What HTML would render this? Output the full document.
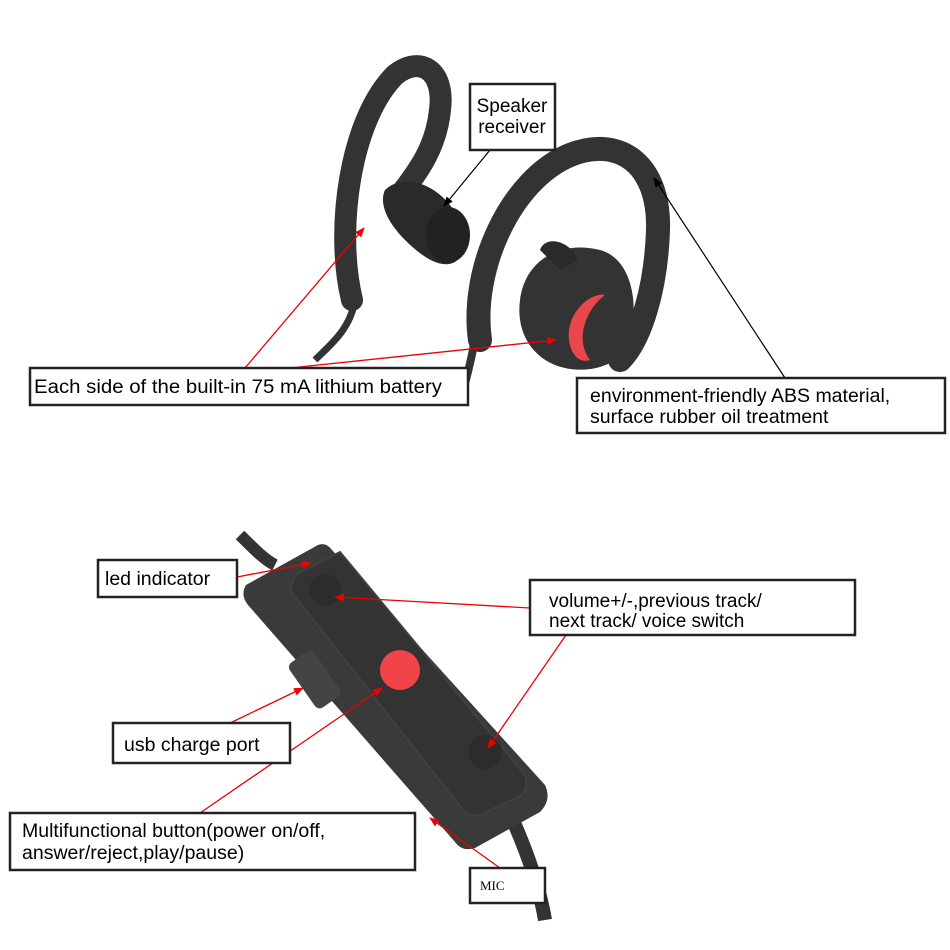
<!DOCTYPE html>
<html><head><meta charset="utf-8"><style>
body{margin:0;background:#fff}
svg{display:block}
text{font-family:"Liberation Sans",sans-serif;fill:#000}
</style></head><body>
<svg width="950" height="950" viewBox="0 0 950 950">
<defs>
<marker id="ar" markerWidth="10" markerHeight="8" refX="9" refY="4" orient="auto" markerUnits="userSpaceOnUse"><path d="M0,0 L10,4 L0,8z" fill="#e00"/></marker>
<marker id="ab" markerWidth="10" markerHeight="8" refX="9" refY="4" orient="auto" markerUnits="userSpaceOnUse"><path d="M0,0 L10,4 L0,8z" fill="#000"/></marker>
</defs>
<!-- left earphone -->
<path d="M352,300 C335,230 350,120 395,75 C420,55 445,70 440,110 C436,150 415,175 400,195" fill="none" stroke="#333" stroke-width="22" stroke-linecap="round"/>
<path d="M355,300 C350,330 330,345 315,360" fill="none" stroke="#333" stroke-width="7"/>
<path d="M385,190 C400,175 430,180 450,205 C465,225 470,250 455,262 C440,270 420,255 405,240 C390,225 378,205 385,190z" fill="#2a2a2a"/>
<ellipse cx="448" cy="235" rx="22" ry="28" fill="#222"/>
<!-- right earphone -->
<path d="M480,340 C470,270 510,180 570,155 C620,135 660,165 658,230 C656,290 640,340 620,360" fill="none" stroke="#333" stroke-width="24" stroke-linecap="round"/>
<path d="M475,340 C470,365 465,385 460,400" fill="none" stroke="#333" stroke-width="8"/>
<path d="M520,300 C525,260 560,240 600,250 C630,258 640,300 630,340 C620,370 580,375 555,365 C530,355 516,330 520,300z" fill="#333"/>
<path d="M540,250 C545,235 570,240 578,260 L560,270z" fill="#2a2a2a"/>
<path d="M605,295 C585,310 575,340 590,360 C575,365 565,345 570,325 C575,305 595,292 605,295z" fill="#e8484c"/>
<!-- remote -->
<path d="M240,535 C255,550 265,560 275,565" stroke="#333" stroke-width="12" fill="none"/>
<path d="M515,825 C530,860 540,890 545,920" stroke="#333" stroke-width="14" fill="none"/>
<path d="M246,585 L318,545 Q326,542 332,550 L545,785 Q552,800 540,812 L475,848 Q462,852 455,842 L248,605 Q240,595 246,585z" fill="#3a3a3a"/>
<path d="M295,575 L340,552 L525,775 Q530,790 518,797 L480,815 Q470,818 463,810 L290,590z" fill="#333" stroke="#404040" stroke-width="2"/>
<rect x="300" y="652" width="30" height="55" rx="6" fill="#444" transform="rotate(-35 315 680)"/>
<circle cx="400" cy="670" r="20" fill="#f04448"/>
<circle cx="325" cy="590" r="16" fill="#2c2c2c"/>
<circle cx="485" cy="752" r="17" fill="#2c2c2c"/>
<!-- connectors -->
<g stroke="#e00" stroke-width="1.3" fill="none">
<line x1="245" y1="368" x2="364" y2="228" marker-end="url(#ar)"/>
<line x1="290" y1="368" x2="556" y2="340" marker-end="url(#ar)"/>
<line x1="237" y1="577" x2="311" y2="563" marker-end="url(#ar)"/>
<line x1="530" y1="608" x2="335" y2="597" marker-end="url(#ar)"/>
<line x1="566" y1="635" x2="488" y2="748" marker-end="url(#ar)"/>
<line x1="228" y1="724" x2="303" y2="688" marker-end="url(#ar)"/>
<line x1="200" y1="813" x2="382" y2="688" marker-end="url(#ar)"/>
<line x1="500" y1="868" x2="430" y2="818" marker-end="url(#ar)"/>
</g>
<g stroke="#000" stroke-width="1.2" fill="none">
<line x1="490" y1="150" x2="444" y2="206" marker-end="url(#ab)"/>
<line x1="785" y1="378" x2="654" y2="178" marker-end="url(#ab)"/>
</g>
<!-- boxes -->
<g fill="#fff" stroke="#222" stroke-width="2.5">
<rect x="470" y="84" width="85" height="66"/>
<rect x="30" y="368" width="438" height="37"/>
<rect x="577" y="378" width="368" height="55"/>
<rect x="98" y="560" width="139" height="37"/>
<rect x="530" y="580" width="325" height="55"/>
<rect x="113" y="723" width="177" height="40"/>
<rect x="10" y="813" width="405" height="57"/>
<rect x="470" y="868" width="75" height="35"/>
</g>
<text x="512" y="112" font-size="19" text-anchor="middle">Speaker</text>
<text x="512" y="133" font-size="19" text-anchor="middle">receiver</text>
<text x="34" y="393" font-size="19" textLength="408" lengthAdjust="spacingAndGlyphs">Each side of the built-in 75 mA lithium battery</text>
<text x="590" y="402" font-size="19.5">environment-friendly ABS material,</text>
<text x="590" y="423" font-size="19.5">surface rubber oil treatment</text>
<text x="105" y="585" font-size="19.5">led indicator</text>
<text x="549" y="607" font-size="19">volume+/-,previous track/</text>
<text x="549" y="627" font-size="19">next track/ voice switch</text>
<text x="124" y="751" font-size="19.5">usb charge port</text>
<text x="22" y="837" font-size="19.5">Multifunctional button(power on/off,</text>
<text x="22" y="859" font-size="19.5">answer/reject,play/pause)</text>
<text x="480" y="890" font-size="13" style="font-family:'Liberation Serif',serif">MIC</text>
</svg>
</body></html>
